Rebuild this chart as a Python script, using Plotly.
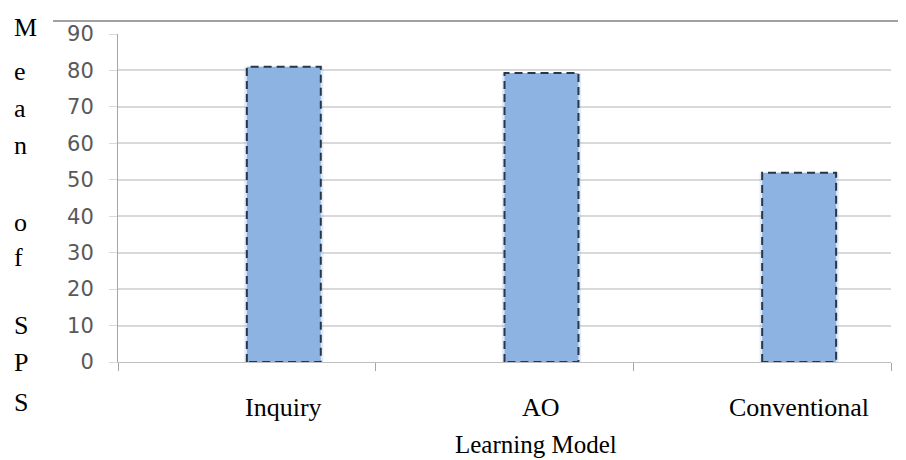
import plotly.graph_objects as go

categories = ["Inquiry", "AO", "Conventional"]
means = [81.0, 79.3, 51.9]
y_ticks = [0, 10, 20, 30, 40, 50, 60, 70, 80, 90]
y_title_letters = ["M", "e", "a", "n", "o", "f", "S", "P", "S"]
y_title_letter_pos = [27, 71, 108, 145, 222, 258, 325, 363, 402]  # pixel centres in the window
x_title = "Learning Model"

OFF = 8  # page body margin
W, H = 906 - OFF, 460 - OFF
L, R, T, B = 118 - OFF, 15, 34 - OFF, 98
pw, ph = W - L - R, H - T - B

def py(p):
    return (H - B - (p - OFF)) / ph

def px(p):
    return ((p - OFF) - L) / pw

bar_w = 0.287
xs = list(range(len(categories)))

fig = go.Figure()
fig.add_trace(go.Bar(x=xs, y=means, width=bar_w + 0.02, offset=-0.01,
                     marker=dict(color="rgba(141,179,226,0.25)", line=dict(width=0)),
                     hoverinfo="skip", showlegend=False))
fig.add_trace(go.Bar(x=xs, y=means, width=bar_w, offset=0,
                     marker=dict(color="#8db3e2", line=dict(width=0)),
                     showlegend=False))
for i, v in zip(xs, means):
    fig.add_trace(go.Scatter(x=[i, i, i + bar_w, i + bar_w, i], y=[0, v, v, 0, 0],
                             mode="lines", line=dict(color="#2a3644", width=2, dash="8px,5px"),
                             hoverinfo="skip", showlegend=False))

fig.update_layout(
    width=W, height=H, margin=dict(l=L, r=R, t=T, b=B),
    paper_bgcolor="white", plot_bgcolor="white", barmode="overlay",
    xaxis=dict(range=[-0.5, len(categories) - 0.5], showgrid=False, zeroline=False,
               tickvals=[i - 0.5 for i in range(len(categories) + 1)],
               showticklabels=False, ticks="outside", ticklen=8, tickcolor="#a6a6a6",
               showline=True, linecolor="#bfbfbf", linewidth=1),
    yaxis=dict(range=[0, 90], tickvals=y_ticks, showgrid=True, gridcolor="#d9d9d9",
               gridwidth=1.5, zeroline=False, showline=True, linecolor="#a6a6a6",
               linewidth=1, ticks="outside", ticklen=8, tickcolor="#d9d9d9",
               tickfont=dict(family="DejaVu Sans", size=21, color="#595959"),
               ticklabelstandoff=11),
)

for i, c in zip(xs, categories):
    fig.add_annotation(x=i + bar_w / 2, y=py(407), xref="x", yref="paper", text=c,
                       showarrow=False, xanchor="center", yanchor="middle",
                       font=dict(family="Liberation Serif", size=26, color="black"))
fig.add_annotation(x=px(536), y=py(445), xref="paper", yref="paper", text=x_title,
                   showarrow=False, xanchor="center", yanchor="middle",
                   font=dict(family="Liberation Serif", size=25, color="black"))
for ch, p in zip(y_title_letters, y_title_letter_pos):
    fig.add_annotation(x=px(12), y=py(p), xref="paper", yref="paper", text=ch,
                       showarrow=False, xanchor="left", yanchor="middle",
                       font=dict(family="Liberation Serif", size=26, color="black"))

fig.add_shape(type="line", xref="paper", yref="paper", x0=px(53), x1=px(906),
              y0=py(21), y1=py(21), line=dict(color="#808080", width=1.5))

fig.write_html("out.html")
